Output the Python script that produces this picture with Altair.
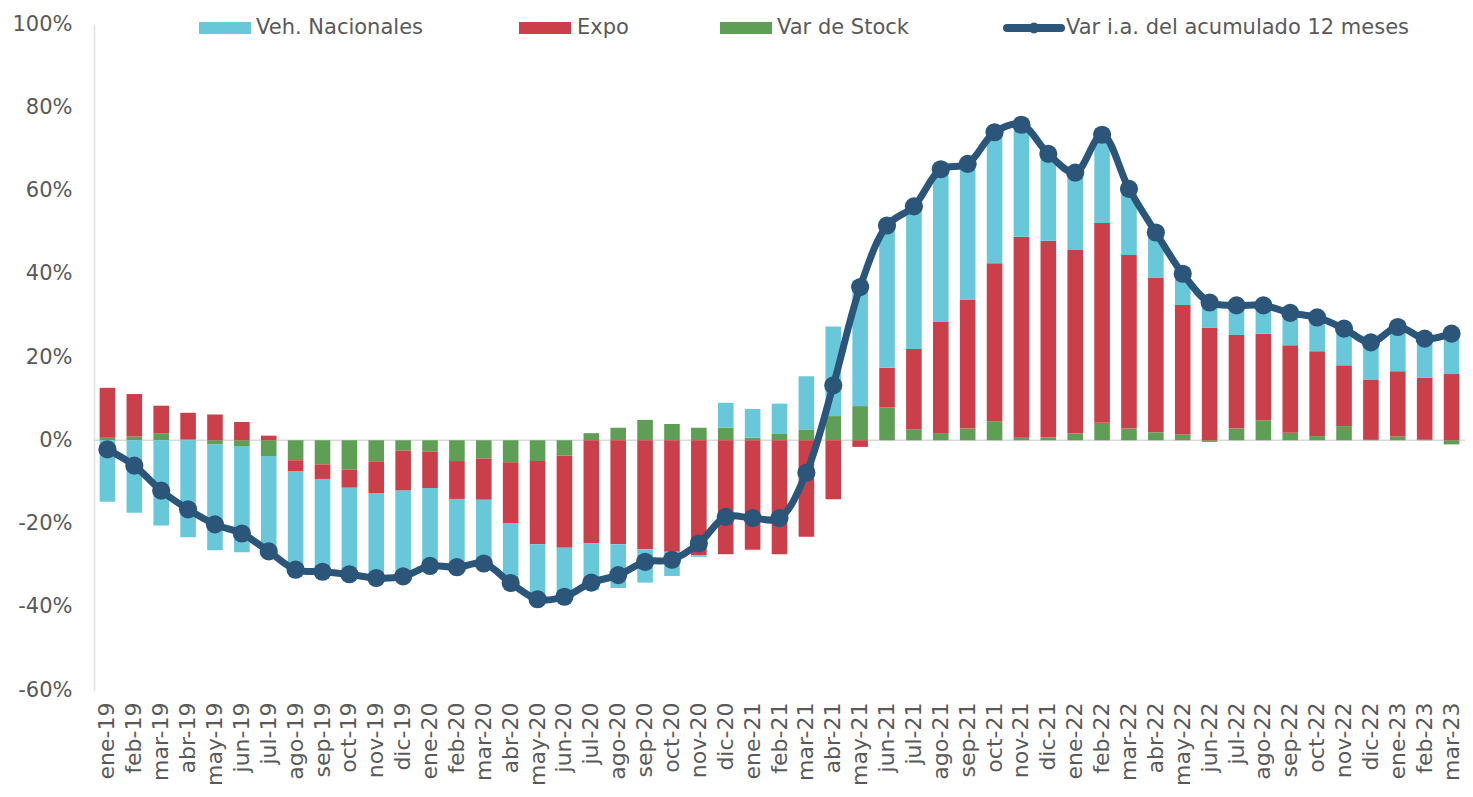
import altair as alt
import pandas as pd

months = ["ene-19","feb-19","mar-19","abr-19","may-19","jun-19","jul-19","ago-19","sep-19","oct-19","nov-19","dic-19",
          "ene-20","feb-20","mar-20","abr-20","may-20","jun-20","jul-20","ago-20","sep-20","oct-20","nov-20","dic-20",
          "ene-21","feb-21","mar-21","abr-21","may-21","jun-21","jul-21","ago-21","sep-21","oct-21","nov-21","dic-21",
          "ene-22","feb-22","mar-22","abr-22","may-22","jun-22","jul-22","ago-22","sep-22","oct-22","nov-22","dic-22",
          "ene-23","feb-23","mar-23"]

# values in percent
veh = [-14.8,-17.4,-20.5,-23.3,-25.4,-25.5,-24.0,-23.8,-22.3,-20.8,-20.4,-20.6,
       -18.7,-16.4,-15.3,-14.4,-13.2,-11.8,-11.2,-10.5,-8.0,-5.8,-0.4,6.0,
       6.9,7.3,12.8,21.5,30.2,34.2,34.3,36.7,32.6,31.5,26.9,20.9,
       18.6,21.2,15.9,10.8,7.5,6.5,7.1,6.8,7.8,8.1,8.8,8.9,
       10.6,9.4,10.7]
expo = [12.0,10.2,6.6,6.4,6.2,4.4,1.1,-2.6,-3.5,-4.4,-7.5,-9.6,
        -8.8,-9.1,-9.9,-14.6,-20.0,-22.1,-24.7,-25.0,-26.2,-26.8,-27.6,-27.4,
        -26.3,-27.4,-23.2,-14.2,-1.6,9.5,19.3,26.7,31.0,37.9,48.3,47.2,
        44.1,48.0,41.7,37.2,31.1,27.0,22.5,20.8,21.0,20.4,14.6,14.5,
        15.7,14.9,15.9]
stock = [0.6,0.9,1.7,0.2,-1.0,-1.4,-3.8,-4.8,-5.8,-7.0,-5.2,-2.5,
         -2.7,-5.0,-4.4,-5.3,-5.0,-3.7,1.7,3.0,4.9,3.9,3.0,3.0,
         0.6,1.5,2.6,5.8,8.2,7.9,2.6,1.7,2.8,4.6,0.6,0.7,
         1.6,4.2,2.8,1.9,1.4,-0.4,2.8,4.8,1.8,1.0,3.4,0.1,
         0.9,0.1,-1.0]
var_ia = [-2.2,-6.1,-12.1,-16.6,-20.2,-22.4,-26.7,-31.1,-31.6,-32.2,-33.1,-32.7,
          -30.2,-30.5,-29.6,-34.3,-38.2,-37.6,-34.2,-32.4,-29.2,-28.7,-24.8,-18.4,
          -18.7,-18.7,-7.8,13.2,36.8,51.6,56.2,65.1,66.4,74.0,75.8,68.8,
          64.3,73.4,60.4,49.9,40.0,33.1,32.4,32.4,30.6,29.5,26.8,23.5,
          27.2,24.4,25.6]
y_ticks = [-0.6, -0.4, -0.2, 0, 0.2, 0.4, 0.6, 0.8, 1.0]

series_names = ["Veh. Nacionales", "Expo", "Var de Stock"]
line_name = "Var i.a. del acumulado 12 meses"
colors = ["#68C8DA", "#CB3F4A", "#5F9E55"]
line_color = "#2B5579"
text_color = "#595959"
FONT = "DejaVu Sans"

rows = []
for i, m in enumerate(months):
    rows.append({"month": m, "series": "Var de Stock", "value": stock[i] / 100, "ord": 0})
    rows.append({"month": m, "series": "Expo", "value": expo[i] / 100, "ord": 1})
    rows.append({"month": m, "series": "Veh. Nacionales", "value": veh[i] / 100, "ord": 2})
bars_df = pd.DataFrame(rows)
line_df = pd.DataFrame({"month": months, "v": [x / 100 for x in var_ia]})
one = pd.DataFrame({"a": [0]})

y_scale = alt.Scale(domain=[-0.6, 1.0], nice=False, zero=False)
y_axis = alt.Axis(values=y_ticks,
                  labelExpr="round(datum.value*100) + '%'",
                  labelFontSize=21, labelColor=text_color, labelFont=FONT,
                  grid=False, ticks=False, domain=True, domainColor="#e0e0e0",
                  domainWidth=1.5, labelPadding=22, title=None)

zero_rule = alt.Chart(one).mark_rule(color="#d9d9d9", strokeWidth=1.5).encode(
    y=alt.datum(0, scale=y_scale, axis=y_axis)
)

bars = alt.Chart(bars_df).mark_bar().encode(
    x=alt.X("month:N", sort=months, title=None,
            scale=alt.Scale(paddingInner=0.42),
            axis=alt.Axis(labelAngle=270, labelFontSize=22, labelColor=text_color, labelFont=FONT,
                          domain=False, ticks=False, labelPadding=12, labelOverlap=False)),
    y=alt.Y("value:Q", stack="zero", scale=y_scale, title=None, axis=y_axis),
    color=alt.Color("series:N", scale=alt.Scale(domain=series_names, range=colors), legend=None),
    order=alt.Order("ord:Q"),
)

line = alt.Chart(line_df).mark_line(
    color=line_color, strokeWidth=7, interpolate="catmull-rom",
    point=alt.OverlayMarkDef(filled=True, size=330, color=line_color, opacity=1),
).encode(
    x=alt.X("month:N", sort=months),
    y=alt.Y("v:Q", scale=y_scale, axis=y_axis),
)

# manual legend (pixel positions relative to plot area)
legend_layers = []
sw_x = [105, 425, 626]
tx_x = [162, 483, 683]
for k in range(3):
    legend_layers.append(
        alt.Chart(one).mark_rect(color=colors[k]).encode(
            x=alt.value(sw_x[k]), x2=alt.value(sw_x[k] + 52), y=alt.value(-2), y2=alt.value(10))
    )
    legend_layers.append(
        alt.Chart(one).mark_text(text=series_names[k], align="left", baseline="middle",
                                 fontSize=21, font=FONT, color=text_color).encode(
            x=alt.value(tx_x[k]), y=alt.value(4))
    )
legend_layers.append(
    alt.Chart(one).mark_rule(color=line_color, strokeWidth=8, strokeCap="round").encode(
        x=alt.value(913), x2=alt.value(967), y=alt.value(4))
)
legend_layers.append(
    alt.Chart(one).mark_point(filled=True, size=120, color=line_color, opacity=1).encode(
        x=alt.value(940), y=alt.value(4))
)
legend_layers.append(
    alt.Chart(one).mark_text(text=line_name, align="left", baseline="middle",
                             fontSize=21, font=FONT, color=text_color).encode(
        x=alt.value(972), y=alt.value(4))
)

chart = alt.layer(zero_rule, bars, line, *legend_layers).properties(
    width=1371, height=666,
    autosize=alt.AutoSizeParams(type="none"),
    padding={"left": 86, "top": 16, "right": 0, "bottom": 99},
).configure(background="white", view=alt.ViewConfig(stroke=None))

chart.save("out.html", embed_options={"renderer": "svg", "actions": False})
